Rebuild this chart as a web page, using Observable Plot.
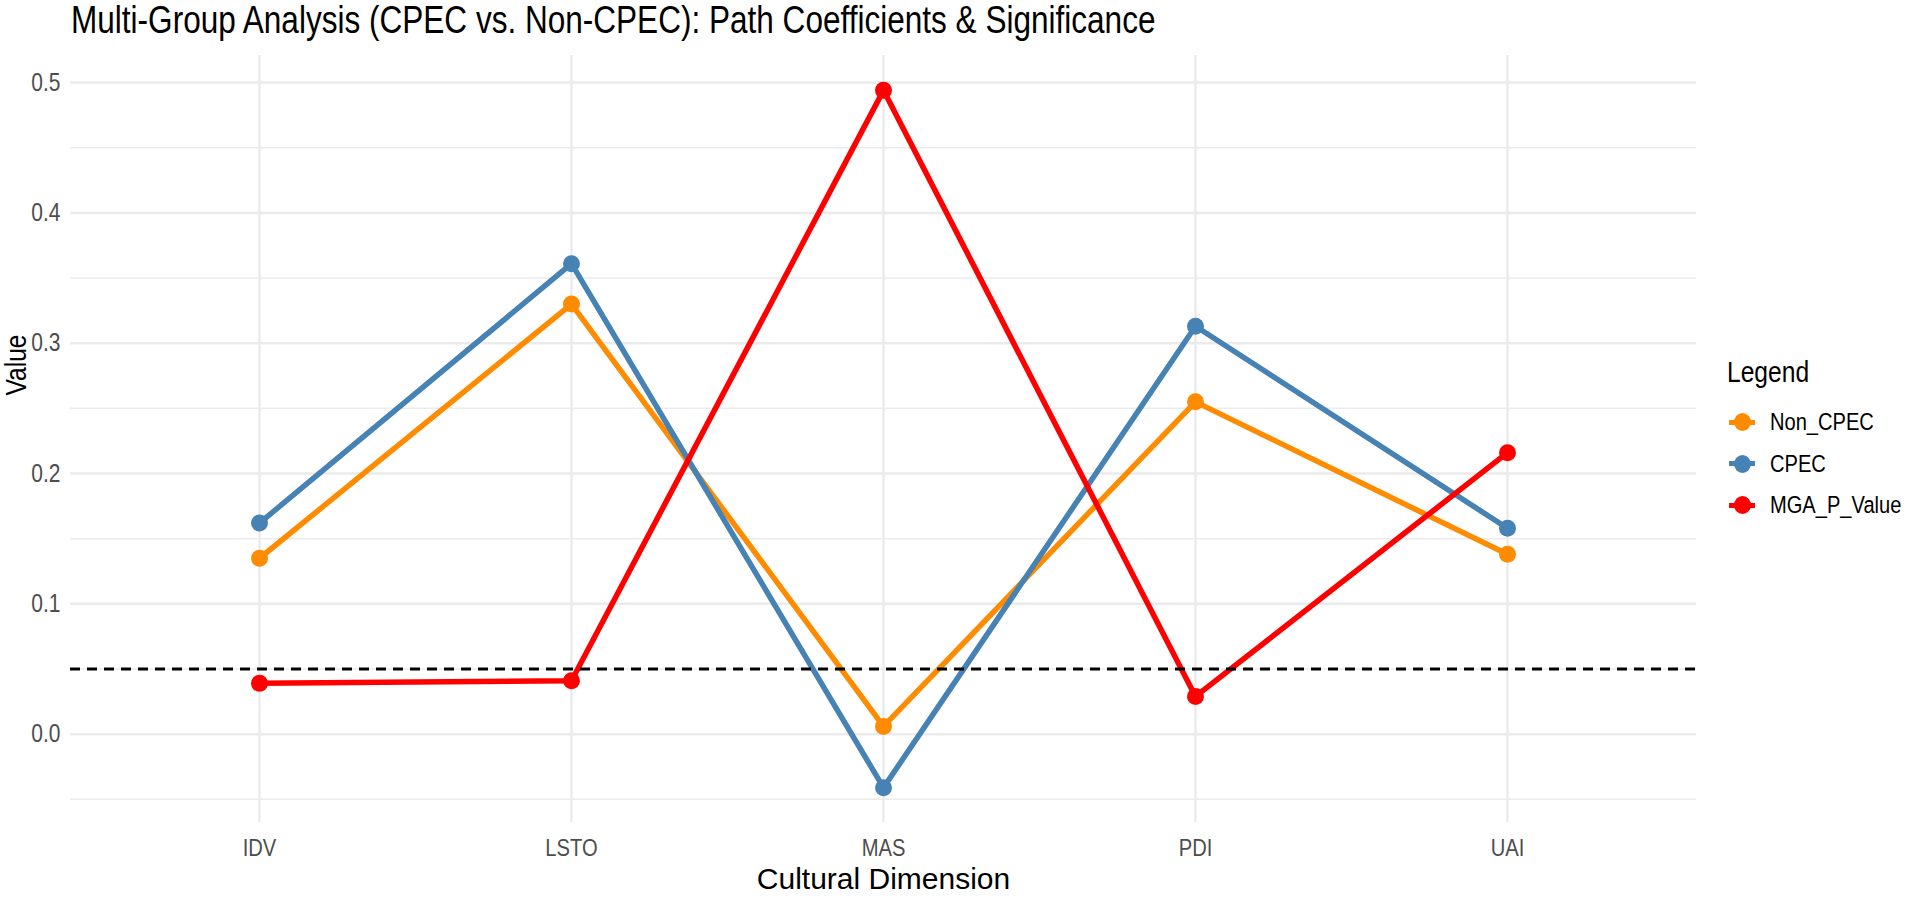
<!DOCTYPE html>
<html>
<head>
<meta charset="utf-8">
<script src="https://cdn.jsdelivr.net/npm/d3@7"></script>
<script src="https://cdn.jsdelivr.net/npm/@observablehq/plot@0.6"></script>
<style>
  html, body { margin: 0; padding: 0; background: #ffffff; }
  body { font-family: "Liberation Sans", Arial, sans-serif; }
  #wrap { position: relative; width: 1907px; height: 898px; overflow: hidden; background: #fff; }
  #title { position: absolute; left: 71px; top: 0px; height: 45px; line-height: 40px; font-size: 38px; color: #000; white-space: nowrap; transform: scaleX(0.83); transform-origin: 0 0; }
  #chart { position: absolute; left: 0; top: 45px; }
  #ytitle { position: absolute; left: 16px; top: 365px; font-size: 30px; line-height: 30px; color: #000; white-space: nowrap;
            transform: translate(-50%, -50%) rotate(-90deg) scaleX(0.82); transform-origin: 50% 50%; }
  .lg { position: absolute; white-space: nowrap; color: #000; }
  .lgttl { font-size: 30px; line-height: 36px; transform: scaleX(0.82); transform-origin: 0 50%; }
  .lgtxt { font-size: 24.5px; line-height: 30px; transform: scaleX(0.82); transform-origin: 0 50%; }
  .key { position: absolute; width: 26px; height: 18px; }
  .key .ln { position: absolute; left: 0; right: 0; top: 6.5px; height: 5px; }
  .key .pt { position: absolute; left: 4.5px; top: 0; width: 17px; height: 18px; border-radius: 50%; }
</style>
</head>
<body>
<div id="wrap">
  <div id="title"></div>
  <div id="chart"></div>
  <div id="ytitle"></div>
  <div id="legend"></div>
</div>
<script>
// ---- data ----
const categories = ["IDV", "LSTO", "MAS", "PDI", "UAI"];
const nonCPEC = [0.135, 0.330, 0.006, 0.255, 0.138];
const cpec    = [0.162, 0.361, -0.041, 0.313, 0.158];
const mgaP    = [0.039, 0.041, 0.494, 0.029, 0.216];
const seriesNames = ["Non_CPEC", "CPEC", "MGA_P_Value"];
const seriesColors = ["#FF8C00", "#4682B4", "#FF0000"];
const threshold = [0.05];
const yTicks = [0.0, 0.1, 0.2, 0.3, 0.4, 0.5];
const yMinorTicks = [-0.05, 0.05, 0.15, 0.25, 0.35, 0.45];
const titleText = "Multi-Group Analysis (CPEC vs. Non-CPEC): Path Coefficients & Significance";
const xTitle = "Cultural Dimension";
const yTitle = "Value";
const legendTitle = "Legend";

// ---- build ----
const seriesValues = [nonCPEC, cpec, mgaP];
const data = seriesNames.flatMap((s, i) =>
  categories.map((c, j) => ({ category: c, value: seriesValues[i][j], series: s }))
);
const ext = d3.extent(data, d => d.value);
const pad = (ext[1] - ext[0]) * 0.05;
const FONT = '"Liberation Sans", Arial, sans-serif';

document.getElementById("title").textContent = titleText;
document.getElementById("ytitle").textContent = yTitle;

const chart = Plot.plot({
  width: 1907,
  height: 853,
  marginLeft: 70,
  marginRight: 211,
  marginTop: 10,
  marginBottom: 76,
  style: { fontFamily: FONT, background: "white", overflow: "visible" },
  x: { type: "point", domain: categories, padding: 0.6, label: null },
  y: { domain: [ext[0] - pad, ext[1] + pad], label: null },
  color: { domain: seriesNames, range: seriesColors },
  marks: [
    Plot.gridY(yMinorTicks, { stroke: "#EBEBEB", strokeOpacity: 1, strokeWidth: 1.5 }),
    Plot.gridY(yTicks, { stroke: "#EBEBEB", strokeOpacity: 1, strokeWidth: 2.5 }),
    Plot.gridX(categories, { stroke: "#EBEBEB", strokeOpacity: 1, strokeWidth: 2.5 }),
    Plot.axisY(yTicks, { tickSize: 0, tickPadding: 10, tickFormat: d3.format(".1f"), fontSize: 25, fill: "#4D4D4D", label: null }),
    Plot.axisX(categories, { tickSize: 0, tickPadding: 16, fontSize: 24, fill: "#4D4D4D", label: null }),
    Plot.line(data, { x: "category", y: "value", z: "series", stroke: "series", strokeWidth: 5.5 }),
    Plot.dot(data, { x: "category", y: "value", fill: "series", r: 8.5 }),
    Plot.ruleY(threshold, { stroke: "black", strokeWidth: 3, strokeDasharray: "10,7" }),
    Plot.text([xTitle], { frameAnchor: "bottom", lineAnchor: "middle", dy: 57, fontSize: 30, fill: "#000", className: "xtitle" })
  ]
});
document.getElementById("chart").appendChild(chart);

// condense svg text horizontally (reference uses a narrow-looking face)
chart.querySelectorAll("text").forEach(t => {
  if (t.closest(".xtitle")) return;
  const w = t.getComputedTextLength();
  if (w > 0) {
    t.setAttribute("textLength", (w * 0.84).toFixed(2));
    t.setAttribute("lengthAdjust", "spacingAndGlyphs");
  }
});

// legend (HTML)
const legend = document.getElementById("legend");
const lt = document.createElement("div");
lt.className = "lg lgttl";
lt.style.left = "1727px";
lt.style.top = (372 - 18) + "px";
lt.textContent = legendTitle;
legend.appendChild(lt);
seriesNames.forEach((s, i) => {
  const cy = 422 + i * 41.5;
  const key = document.createElement("div");
  key.className = "key";
  key.style.left = "1729px";
  key.style.top = (cy - 9) + "px";
  const ln = document.createElement("span");
  ln.className = "ln"; ln.style.background = seriesColors[i];
  const pt = document.createElement("span");
  pt.className = "pt"; pt.style.background = seriesColors[i];
  key.appendChild(ln); key.appendChild(pt);
  legend.appendChild(key);
  const tx = document.createElement("div");
  tx.className = "lg lgtxt";
  tx.style.left = "1770px";
  tx.style.top = (cy - 15) + "px";
  tx.textContent = s;
  legend.appendChild(tx);
});
</script>
</body>
</html>
